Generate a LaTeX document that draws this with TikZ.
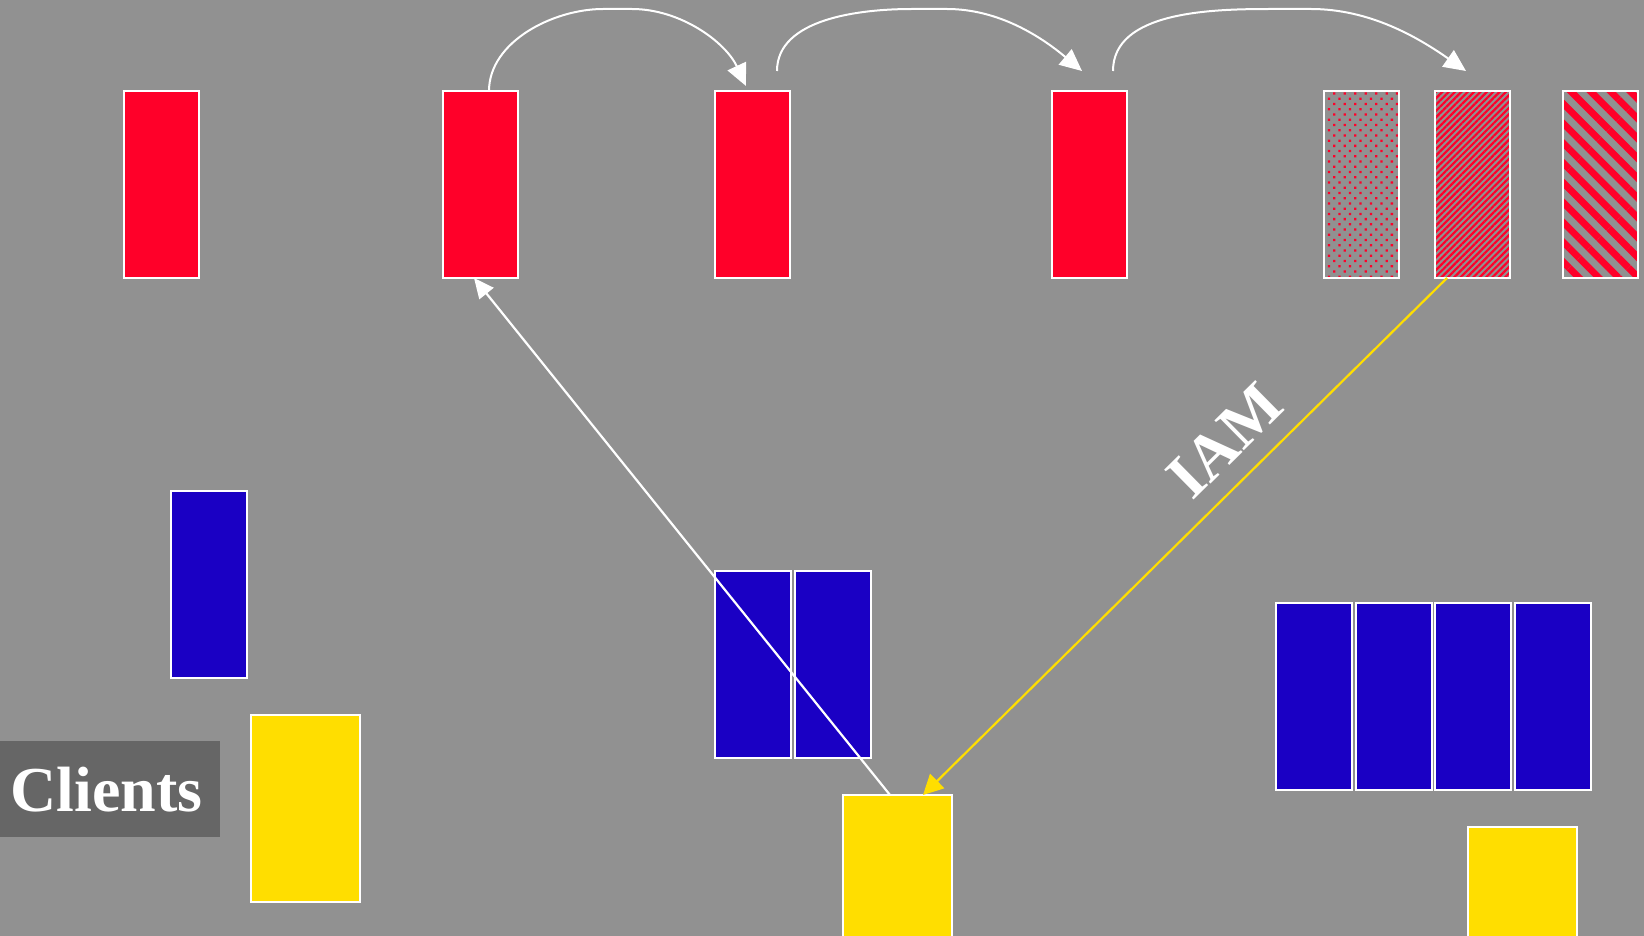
\documentclass[tikz,border=0pt]{standalone}
\usepackage{fontspec}
\setmainfont{Liberation Serif}
\usetikzlibrary{arrows.meta,patterns.meta}

\definecolor{bggrey}{HTML}{919191}
\definecolor{redfill}{HTML}{FF0029}
\definecolor{bluefill}{HTML}{1A00C4}
\definecolor{yellowfill}{HTML}{FFDE00}
\definecolor{darkgrey}{HTML}{666666}

\begin{document}
\begin{tikzpicture}[x=0.5pt,y=-0.5pt,
panel/.style={draw=white,line width=1pt,anchor=north west,inner sep=0pt,outer sep=0pt,minimum height=93.5pt},
redbox/.style={panel,fill=redfill,minimum width=37.5pt},
dotbox/.style={panel,minimum width=37.5pt,pattern={Dots[angle=45,distance=3.7pt,radius=0.8pt]},pattern color=redfill},
linebox/.style={panel,minimum width=37.5pt,pattern={Lines[angle=45,distance=2.25pt,line width=1.1pt]},pattern color=redfill},
stripebox/.style={panel,minimum width=37.5pt,pattern={Lines[angle=-45,distance=7pt,line width=3.4pt]},pattern color=redfill},
bluebox/.style={panel,fill=bluefill,minimum width=38pt},
yellowbox/.style={panel,fill=yellowfill,minimum width=54.5pt},
clientsbox/.style={anchor=north west,fill=darkgrey,text=white,inner ysep=0pt,inner xsep=5pt,text width=100pt,align=left,minimum height=48pt,font=\fontsize{32}{36}\selectfont\bfseries},
tag/.style={text=white,inner sep=0pt,font=\fontsize{32}{36}\selectfont\bfseries},
arrow/.style={-{Triangle[length=10pt,width=9pt]},line width=1.1pt,white},
arcarrow/.style={-{Triangle[length=11pt,width=10pt]},line width=1pt,white},
yarrow/.style={-{Triangle[length=10pt,width=10pt]},line width=1.1pt,yellowfill} ]

\useasboundingbox (0,0) rectangle (1644,936);

\clip (0,0) rectangle (1644,936);

\fill[bggrey] (0,0) rectangle (1644,936);

\node[redbox] (R1) at (124,91) {};

\node[redbox] (R2) at (443,91) {};

\node[redbox] (R3) at (715,91) {};

\node[redbox] (R4) at (1052,91) {};

\node[dotbox] (P1) at (1324,91) {};

\node[linebox] (P2) at (1435,91) {};

\node[stripebox] (P3) at (1563,91) {};

\node[bluebox] (B1) at (171,491) {};

\node[bluebox] (B2a) at (715,571) {};

\node[bluebox] (B2b) at (795,571) {};

\node[bluebox] (B3a) at (1276,603) {};

\node[bluebox] (B3b) at (1356,603) {};

\node[bluebox] (B3c) at (1435,603) {};

\node[bluebox] (B3d) at (1515,603) {};

\node[yellowbox] (Y1) at (251,715) {};

\node[yellowbox] (Y2) at (843,795) {};

\node[yellowbox] (Y3) at (1468,827) {};

\node[clientsbox] (clients) at (0,741) {Clients};

\coordinate (s1) at ([xshift=4.25pt]R2.north);

\coordinate (e1) at ([xshift=-3.25pt,yshift=2.5pt]R3.north);

\coordinate (s2) at ([xshift=12.25pt,yshift=10pt]R3.north);

\coordinate (e2) at ([xshift=-3.75pt,yshift=10pt]R4.north);

\coordinate (s3) at ([xshift=11.75pt,yshift=10pt]R4.north);

\coordinate (e3) at ([xshift=-3.25pt,yshift=10pt]P2.north);

\draw[arcarrow] (s1) to[out=90,in=180,looseness=0.9] (603,9) -- (632,9) to[out=0,in=115,looseness=0.9] (e1);

\draw[arcarrow] (s2) to[out=90,in=180,looseness=0.9] (912,9) -- (947,9) to[out=0,in=140,looseness=0.9] (e2);

\draw[arcarrow] (s3) to[out=90,in=180,looseness=0.9] (1271,9) -- (1311,9) to[out=0,in=145,looseness=0.9] (e3);

\draw[arrow] ([xshift=-3.75pt]Y2.north) -- ([xshift=-3.25pt]R2.south);

\draw[yarrow] ([xshift=-12.75pt]P2.south) -- node[pos=0.37, sloped, above=9pt, tag] {IAM} ([xshift=12.75pt]Y2.north);

\end{tikzpicture}
\end{document}
